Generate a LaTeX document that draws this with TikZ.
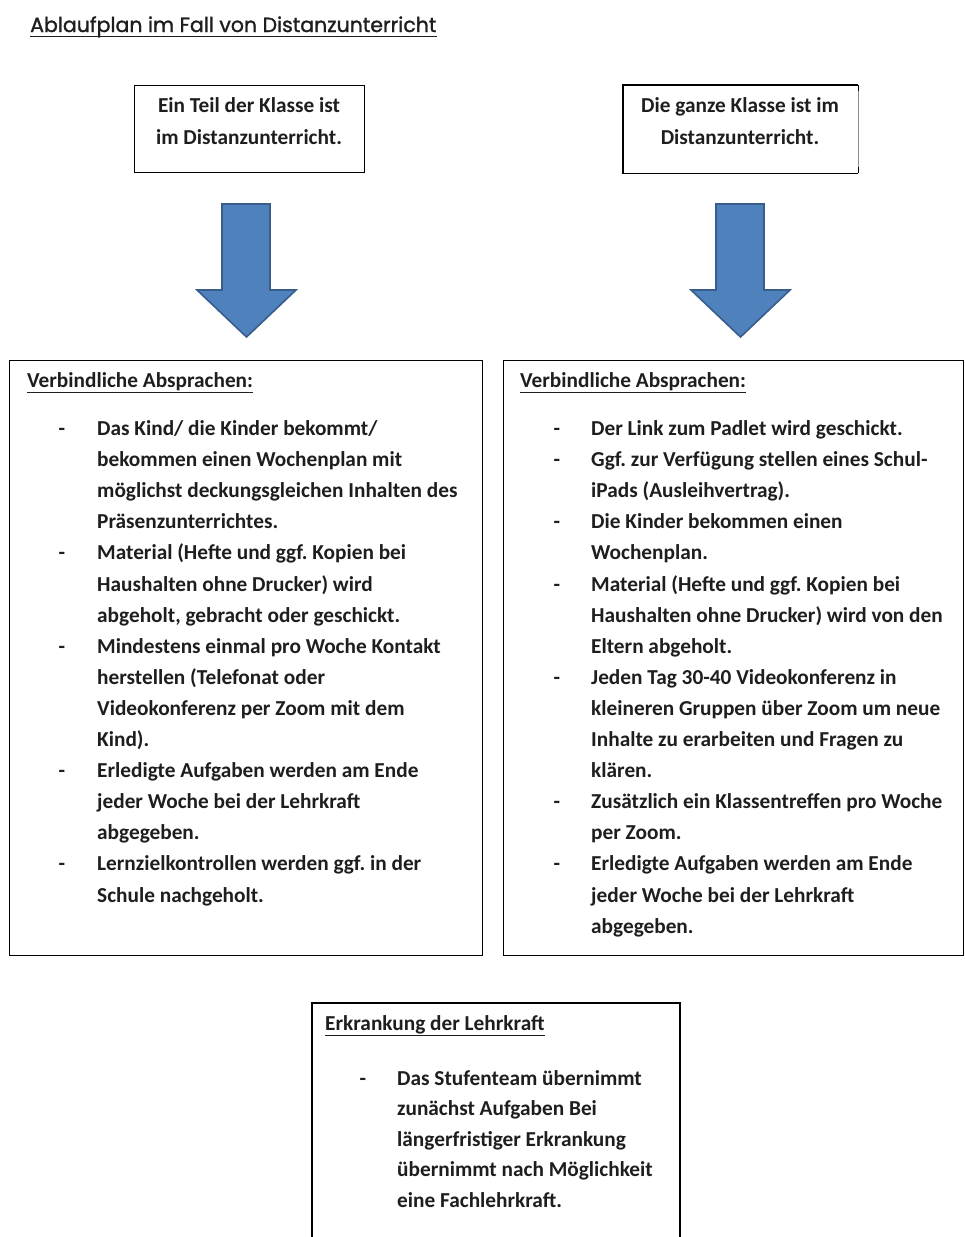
\documentclass[tikz,border=0pt]{standalone}
\usepackage{fontspec}
\setmainfont{Carlito}
\newfontfamily\titlefont[RawFeature={embolden=1.3}]{Poppins}
\definecolor{arrowblue}{RGB}{79,129,189}
\definecolor{arrowedge}{RGB}{56,93,138}
\definecolor{ink}{RGB}{30,30,30}
\frenchspacing
\begin{document}
\begin{tikzpicture}[x=1pt,y=-1pt,
  frame/.style={draw=black, line width=1.3pt, inner sep=0pt, minimum width=#1},
  body/.style={font=\bfseries\fontsize{21.3}{31.1}\selectfont, text=ink, inner sep=0pt, align=left, anchor=base west},
  ctext/.style={font=\bfseries\fontsize{21.3}{32}\selectfont, text=ink, inner sep=0pt, align=center, anchor=base},
  bul/.style={font=\bfseries\fontsize{21.3}{31.1}\selectfont, text=ink, inner sep=0pt, anchor=base},
  bigarrow/.style={fill=arrowblue, draw=arrowedge, line width=1.6pt, line join=miter}]
\useasboundingbox (0,0) rectangle (965,1237);
\fill[white] (0,0) rectangle (965,1237);

% title
\node[font=\titlefont\fontsize{20.5}{24}\selectfont, text=ink, inner sep=0pt, anchor=base west] (title) at (30,32) {Ablaufplan im Fall von Distanzunterricht};
\draw[line width=1.6pt, ink] ([yshift=-4.5pt]title.base west) -- ([yshift=-4.5pt]title.base east);

% top boxes (text nodes are anchored at the baseline of their last line)
\node[frame=230pt, minimum height=87pt, anchor=north west] (top1) at (134,85) {};
\node[ctext] (top1t) at (249,144) {Ein Teil der Klasse ist\\im Distanzunterricht.};
\node[frame=234pt, minimum height=87pt, anchor=north west, draw=none] (top2) at (623,85) {};
\draw[line width=1.3pt] (top2.north east) -- (top2.north west) -- (top2.south west) -- (top2.south east);
\draw[line width=0.6pt, black!45] (top2.north east) -- (top2.south east);
\draw[line width=1.3pt] (top2.north east) -- ++(0,6);
\draw[line width=1.3pt] (top2.south east) -- ++(0,-6);
\node[ctext] (top2t) at (740,144) {Die ganze Klasse ist im\\Distanzunterricht.};

% arrows
\draw[bigarrow] (222,204) -- (270,204) -- (270,290) -- (296,290) -- (246.5,337) -- (197,290) -- (222,290) -- cycle;
\draw[bigarrow] (716,204) -- (764,204) -- (764,290) -- (790,290) -- (740.5,337) -- (691,290) -- (716,290) -- cycle;

% left big box
\node[frame=473pt, minimum height=595pt, anchor=north west] (left) at (8.5,360) {};
\node[body] (lh) at (27,387) {\underline{Verbindliche Absprachen:}};
\node[bul] (ld1) at (62,435.5) {-};
\node[body] (l1) at (97,528.8) {Das Kind/ die Kinder bekommt/\\bekommen einen Wochenplan mit\\möglichst deckungsgleichen Inhalten des\\Präsenzunterrichtes.};
\node[bul] (ld2) at (62,559.9) {-};
\node[body] (l2) at (97,622.1) {Material (Hefte und ggf. Kopien bei\\Haushalten ohne Drucker) wird\\abgeholt, gebracht oder geschickt.};
\node[bul] (ld3) at (62,653.2) {-};
\node[body] (l3) at (97,746.5) {Mindestens einmal pro Woche Kontakt\\herstellen (Telefonat oder\\Videokonferenz per Zoom mit dem\\Kind).};
\node[bul] (ld4) at (62,777.6) {-};
\node[body] (l4) at (97,839.8) {Erledigte Aufgaben werden am Ende\\jeder Woche bei der Lehrkraft\\abgegeben.};
\node[bul] (ld5) at (62,870.9) {-};
\node[body] (l5) at (97,902.0) {Lernzielkontrollen werden ggf. in der\\Schule nachgeholt.};

% right big box
\node[frame=460pt, minimum height=595pt, anchor=north west] (right) at (503,360) {};
\node[body] (rh) at (520,387) {\underline{Verbindliche Absprachen:}};
\node[bul] (rd1) at (557,435.5) {-};
\node[body] (r1) at (591,435.5) {Der Link zum Padlet wird geschickt.};
\node[bul] (rd2) at (557,466.6) {-};
\node[body] (r2) at (591,497.7) {Ggf. zur Verfügung stellen eines Schul-\\iPads (Ausleihvertrag).};
\node[bul] (rd3) at (557,528.8) {-};
\node[body] (r3) at (591,559.9) {Die Kinder bekommen einen\\Wochenplan.};
\node[bul] (rd4) at (557,591.0) {-};
\node[body] (r4) at (591,653.2) {Material (Hefte und ggf. Kopien bei\\Haushalten ohne Drucker) wird von den\\Eltern abgeholt.};
\node[bul] (rd5) at (557,684.3) {-};
\node[body] (r5) at (591,777.6) {Jeden Tag 30-40 Videokonferenz in\\kleineren Gruppen über Zoom um neue\\Inhalte zu erarbeiten und Fragen zu\\klären.};
\node[bul] (rd6) at (557,808.7) {-};
\node[body] (r6) at (591,839.8) {Zusätzlich ein Klassentreffen pro Woche\\per Zoom.};
\node[bul] (rd7) at (557,870.9) {-};
\node[body] (r7) at (591,933.1) {Erledigte Aufgaben werden am Ende\\jeder Woche bei der Lehrkraft\\abgegeben.};

% bottom box (open at the bottom edge)
\coordinate (bl) at (312,1240);
\coordinate (br) at (680,1240);
\coordinate (btl) at (312,1003);
\coordinate (btr) at (680,1003);
\draw[line width=1.3pt] (bl) -- (btl) -- (btr) -- (br);
\node[body] (bh) at (325,1030) {\underline{Erkrankung der Lehrkraft}};
\node[bul] (bd1) at (363,1085) {-};
\node[body, font=\bfseries\fontsize{21.3}{30.5}\selectfont] (b1) at (397,1207) {Das Stufenteam übernimmt\\zunächst Aufgaben Bei\\längerfristiger Erkrankung\\übernimmt nach Möglichkeit\\eine Fachlehrkraft.};
\end{tikzpicture}
\end{document}
